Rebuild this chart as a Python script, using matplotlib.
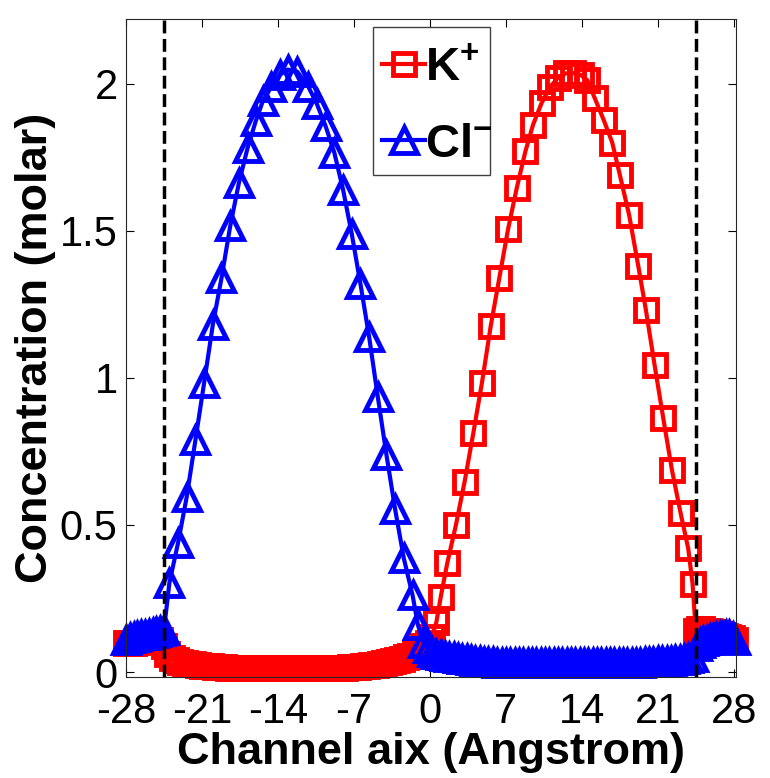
import matplotlib
matplotlib.use('Agg')
import matplotlib.pyplot as plt
from matplotlib.patches import Rectangle

plt.rcParams['font.family'] = ['Liberation Sans', 'DejaVu Sans']
plt.rcParams['mathtext.fontset'] = 'custom'
plt.rcParams['mathtext.rm'] = 'Liberation Sans'
plt.rcParams['mathtext.bf'] = 'Liberation Sans:bold'
plt.rcParams['axes.unicode_minus'] = False

# K+ concentration along the channel axis
k_x = [-28.0, -27.65, -27.3, -26.95, -26.6, -26.25, -25.9, -25.55, -25.2, -24.85,
       -24.5, -24.2, -23.8, -23.4, -23.0, -22.6, -22.2, -21.8, -21.4, -21.0,
       -20.6, -20.2, -19.8, -19.4, -19.0, -18.6, -18.2, -17.8, -17.4, -17.0,
       -16.6, -16.2, -15.8, -15.4, -15.0, -14.6, -14.2, -13.8, -13.4, -13.0,
       -12.6, -12.2, -11.8, -11.4, -11.0, -10.6, -10.2, -9.8, -9.4, -9.0,
       -8.6, -8.2, -7.8, -7.4, -7.0, -6.6, -6.2, -5.8, -5.4, -5.0,
       -4.6, -4.2, -3.8, -3.4, -3.0, -2.6, -2.2, -1.8, -1.4, -1.0,
       -0.6, -0.2, 0.2, 0.6, 1.0, 1.6, 2.4, 3.2, 4.0, 4.8,
       5.6, 6.4, 7.2, 8.0, 8.8, 9.5, 10.3, 11.1, 11.8, 12.5,
       13.2, 13.9, 14.5, 15.2, 16.0, 16.8, 17.5, 18.35, 19.2, 19.9,
       20.7, 21.5, 22.3, 23.1, 23.8, 24.2, 24.5, 24.8, 25.1, 25.4,
       25.7, 26.0, 26.3, 26.6, 26.9, 27.2, 27.5, 27.8, 28.1]
k_conc = [0.10, 0.10, 0.10, 0.102, 0.104, 0.106, 0.108, 0.11, 0.11, 0.11,
          0.09, 0.06, 0.048, 0.04, 0.035, 0.031, 0.028, 0.026, 0.024, 0.022,
          0.02, 0.019, 0.018, 0.017, 0.016, 0.015, 0.015, 0.014, 0.014, 0.013,
          0.013, 0.013, 0.012, 0.012, 0.012, 0.012, 0.012, 0.012, 0.012, 0.012,
          0.012, 0.012, 0.012, 0.012, 0.012, 0.012, 0.012, 0.012, 0.013, 0.013,
          0.014, 0.015, 0.015, 0.016, 0.017, 0.018, 0.02, 0.021, 0.023, 0.025,
          0.027, 0.03, 0.033, 0.036, 0.04, 0.044, 0.05, 0.056, 0.065, 0.075,
          0.088, 0.10, 0.12, 0.17, 0.255, 0.37, 0.50, 0.647, 0.812, 0.984,
          1.175, 1.34, 1.505, 1.645, 1.77, 1.86, 1.935, 1.99, 2.02, 2.035,
          2.036, 2.03, 2.012, 1.95, 1.878, 1.80, 1.69, 1.555, 1.38, 1.231,
          1.044, 0.863, 0.687, 0.54, 0.42, 0.30, 0.14, 0.145, 0.145, 0.14,
          0.14, 0.135, 0.13, 0.128, 0.125, 0.122, 0.12, 0.115, 0.11]

# Cl- concentration along the channel axis
cl_x = [-28.0, -27.65, -27.3, -26.95, -26.6, -26.25, -25.9, -25.55, -25.2, -24.85,
        -24.5, -24.0, -23.2, -22.4, -21.6, -20.8, -20.0, -19.2, -18.4, -17.6,
        -16.8, -16.05, -15.4, -14.6, -13.85, -13.1, -12.2, -11.2, -10.4, -9.6,
        -8.8, -8.0, -7.2, -6.4, -5.6, -4.8, -4.0, -3.2, -2.4, -1.6,
        -1.1, -0.6, -0.2, 0.2, 0.6, 1.0, 1.4, 1.8, 2.2, 2.6,
        3.0, 3.4, 3.8, 4.2, 4.6, 5.0, 5.4, 5.8, 6.2, 6.6,
        7.0, 7.4, 7.8, 8.2, 8.6, 9.0, 9.4, 9.8, 10.2, 10.6,
        11.0, 11.4, 11.8, 12.2, 12.6, 13.0, 13.4, 13.8, 14.2, 14.6,
        15.0, 15.4, 15.8, 16.2, 16.6, 17.0, 17.4, 17.8, 18.2, 18.6,
        19.0, 19.4, 19.8, 20.2, 20.6, 21.0, 21.4, 21.8, 22.2, 22.6,
        23.0, 23.4, 23.8, 24.2, 24.6, 24.9, 25.2, 25.5, 25.8, 26.1,
        26.4, 26.7, 27.0, 27.3, 27.6, 27.9, 28.1]
cl_conc = [0.11, 0.115, 0.12, 0.122, 0.125, 0.127, 0.13, 0.132, 0.135, 0.138,
           0.143, 0.303, 0.439, 0.596, 0.789, 0.983, 1.18, 1.339, 1.515, 1.662,
           1.781, 1.872, 1.94, 1.99, 2.03, 2.048, 2.04, 1.99, 1.93, 1.855,
           1.765, 1.64, 1.49, 1.32, 1.14, 0.936, 0.738, 0.553, 0.386, 0.262,
           0.16, 0.10, 0.08, 0.068, 0.062, 0.058, 0.055, 0.052, 0.05, 0.047,
           0.045, 0.043, 0.041, 0.039, 0.037, 0.035, 0.034, 0.033, 0.032, 0.031,
           0.031, 0.03, 0.03, 0.03, 0.029, 0.029, 0.029, 0.029, 0.029, 0.029,
           0.029, 0.029, 0.029, 0.029, 0.029, 0.029, 0.029, 0.029, 0.029, 0.029,
           0.029, 0.029, 0.029, 0.029, 0.03, 0.03, 0.03, 0.03, 0.031, 0.031,
           0.032, 0.032, 0.033, 0.034, 0.035, 0.036, 0.037, 0.038, 0.039, 0.04,
           0.042, 0.044, 0.047, 0.05, 0.09, 0.10, 0.105, 0.11, 0.113, 0.116,
           0.12, 0.122, 0.124, 0.125, 0.125, 0.12, 0.11]

# channel ends
channel_ends = [-24.5, 24.5]

x_ticks = [-28, -21, -14, -7, 0, 7, 14, 21, 28]
y_ticks = [0, 0.5, 1, 1.5, 2]
y_tick_labels = ['0', '0.5', '1', '1.5', '2']

fig = plt.figure(figsize=(7.7, 7.78), dpi=100)
ax = fig.add_axes([0.1636, 0.1298, 0.7922, 0.8458])

ax.plot(k_x, k_conc, color='#ff0000', marker='s', markersize=16,
        markerfacecolor='none', markeredgewidth=3.5, linewidth=3,
        label=r'$\mathbf{K}^{\mathbf{+}}$', clip_on=False)
ax.plot(cl_x, cl_conc, color='#0000ff', marker='^', markersize=19,
        markerfacecolor='none', markeredgewidth=3.5, linewidth=3,
        label=r'$\mathbf{Cl}^{\mathbf{-}}$', clip_on=False)

for xe in channel_ends:
    ax.axvline(xe, color='k', linestyle='--', linewidth=2.5)

ax.set_xlim(-28, 28.2)
ax.set_ylim(-0.017, 2.22)
ax.set_xticks(x_ticks)
ax.set_yticks(y_ticks)
ax.set_yticklabels(y_tick_labels)

ax.tick_params(direction='in', length=6, width=0.8, top=True, right=True,
               labelsize=30, colors='k')
ax.tick_params(axis='x', pad=11)
ax.tick_params(axis='y', pad=6)
for s in ax.spines.values():
    s.set_linewidth(0.8)
    s.set_color('#262626')

ax.set_xlabel('Channel aix (Angstrom)', fontsize=32.5, fontweight='bold', labelpad=0)
ax.set_ylabel('Concentration (molar)', fontsize=32.5, fontweight='bold', labelpad=3)

# legend box drawn separately (MATLAB-style taller box)
box = Rectangle((0.405, 0.763), 0.192, 0.225, transform=ax.transAxes,
                facecolor='white', edgecolor='#404040', linewidth=1.0,
                zorder=4.9, clip_on=False)
ax.add_patch(box)
leg = ax.legend(loc='upper left', bbox_to_anchor=(0.405, 0.972), borderaxespad=0,
                fontsize=34, handlelength=0.9, handletextpad=0.0,
                borderpad=0.2, labelspacing=0.68, frameon=False)
leg.set_zorder(5)

fig.savefig('out.png', dpi=100)
